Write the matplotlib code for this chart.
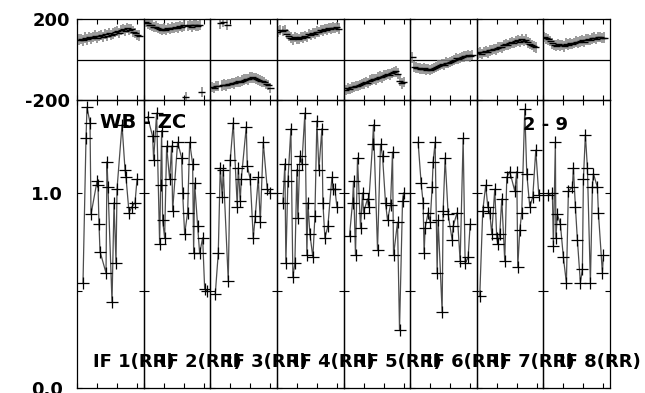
import numpy as np
import matplotlib.pyplot as plt

# time axis of every IF panel, minutes
panel_len = 66.6
time_ticks = [0, 20, 40, 60]
if_labels = ["IF 1(RR)", "IF 2(RR)", "IF 3(RR)", "IF 4(RR)",
             "IF 5(RR)", "IF 6(RR)", "IF 7(RR)", "IF 8(RR)"]
baseline = "WB - ZC"
scan = "2 - 9"

# phase (deg) per IF
phase_time = [
    [2, 4, 6, 8, 10, 12, 14, 16, 18, 20, 22, 24, 26, 28, 30, 32, 34, 36, 38, 40, 42, 44, 46, 48, 50, 52, 54, 56, 58, 60, 62],
    [2, 4, 6, 8, 10, 12, 14, 16, 18, 20, 22, 24, 26, 28, 30, 32, 34, 36, 38, 40, 42, 44, 46, 48, 50, 52, 54, 56, 58],
    [2, 4, 6, 8, 10, 12, 13, 14, 16, 17, 18, 20, 22, 24, 26, 28, 30, 32, 34, 36, 38, 40, 42, 44, 46, 48, 50, 52, 54, 56, 58, 60],
    [1, 3, 6, 8, 10, 12, 14, 16, 18, 20, 22, 24, 26, 28, 30, 32, 34, 36, 38, 40, 42, 44, 46, 48, 50, 52, 54, 56, 58, 60, 62],
    [2, 4, 6, 8, 10, 12, 14, 16, 18, 20, 22, 24, 26, 28, 30, 32, 34, 36, 38, 40, 42, 44, 46, 48, 50, 52, 54, 56, 58, 60],
    [2, 4, 6, 8, 10, 12, 14, 16, 18, 20, 22, 24, 26, 28, 30, 32, 34, 36, 38, 40, 42, 44, 46, 48, 50, 52, 54, 56, 58, 60, 62],
    [1, 3, 5, 7, 9, 11, 13, 15, 17, 19, 21, 23, 25, 27, 29, 31, 33, 35, 37, 39, 41, 43, 45, 47, 49, 51, 53, 55, 57, 59],
    [1, 3, 5, 7, 9, 11, 13, 15, 17, 19, 21, 23, 25, 27, 29, 31, 33, 35, 37, 39, 41, 43, 45, 47, 49, 51, 53, 55, 57, 59, 61],
]
phase_val = [
    [98, 102, 95, 108, 100, 112, 105, 110, 118, 108, 115, 120, 112, 125, 118, 130, 122, 128, 135, 140, 132, 145, 150, 142, 155, 148, 150, 138, 130, 122, 118],
    [185, 178, 172, 168, 160, 162, 155, 150, 148, 152, 145, 155, 150, 158, 155, 160, 158, 165, 160, 168, -185, 165, 170, 162, 172, 168, 165, 170, -160],
    [-136, -140, -130, -132, 178, -128, 185, -124, -128, 170, -120, -122, -115, -118, -112, -108, -110, -104, -100, -96, -98, -90, -88, -92, -95, -100, -104, -108, -112, -120, -126, -140],
    [138, 145, 140, 146, 125, 115, 108, 100, 110, 105, 102, 110, 108, 115, 112, 125, 122, 130, 128, 138, 135, 145, 142, 150, 148, 155, 152, 158, 155, 160, 152],
    [-150, -142, -145, -138, -135, -130, -132, -125, -120, -118, -112, -115, -105, -100, -96, -98, -90, -85, -88, -80, -76, -72, -75, -66, -62, -58, -70, -105, -118, -112],
    [10, -35, -40, -42, -45, -48, -44, -50, -46, -52, -48, -42, -38, -30, -28, -22, -25, -15, -18, -12, -8, -2, 5, 2, 8, 12, 15, 18, 20, 16, 22],
    [30, 35, 28, 38, 40, 35, 45, 48, 52, 50, 58, 62, 60, 70, 75, 72, 80, 85, 82, 90, 95, 88, 100, 92, 98, 85, 78, 72, 65, 60],
    [112, 105, 100, 92, 80, 72, 68, 75, 70, 72, 65, 78, 74, 80, 76, 82, 88, 85, 90, 94, 88, 98, 100, 96, 104, 108, 102, 110, 112, 106, 108],
]

# amplitude per IF
amp_time = [
    [6, 9, 10, 13, 14, 20, 21, 22, 23, 29, 30, 31, 35, 37, 39, 40, 45, 48, 49, 52, 55, 58, 60],
    [4, 9, 10, 13, 16, 17, 18, 19, 21, 23, 26, 28, 29, 34, 38, 39, 41, 44, 46, 49, 50, 51, 54, 56, 59, 61, 63],
    [5, 8, 10, 12, 13, 18, 20, 23, 27, 28, 30, 31, 36, 37, 40, 43, 45, 48, 50, 53, 57, 60],
    [6, 8, 9, 11, 14, 16, 18, 20, 21, 23, 25, 28, 30, 31, 33, 36, 38, 40, 42, 45, 46, 48, 51, 55, 56, 58, 60],
    [6, 9, 10, 12, 14, 17, 19, 20, 24, 25, 29, 30, 34, 37, 39, 42, 44, 47, 49, 50, 54, 56, 59, 60],
    [8, 11, 13, 14, 15, 18, 20, 22, 23, 25, 27, 28, 32, 33, 35, 38, 42, 43, 47, 50, 53, 55, 58, 60],
    [3, 6, 9, 11, 13, 15, 18, 20, 21, 23, 25, 28, 30, 33, 38, 40, 41, 43, 45, 48, 50, 53, 56, 59, 62],
    [5, 9, 10, 12, 12.5, 14, 17, 20, 23, 25, 29, 30, 32, 34, 37, 39, 40, 42, 44, 47, 49, 50, 54, 55, 59, 60],
]
amp_val = [
    [0.54, 1.28, 1.44, 1.36, 0.89, 1.06, 1.04, 0.84, 0.70, 0.59, 1.16, 1.03, 0.44, 0.95, 0.64, 1.02, 1.35, 1.12, 1.08, 0.90, 0.93, 0.95, 1.07],
    [1.39, 1.29, 1.17, 1.41, 0.74, 1.04, 1.32, 0.86, 0.77, 1.24, 1.07, 1.24, 0.91, 1.26, 1.18, 1.00, 0.79, 0.90, 1.26, 1.15, 0.69, 1.05, 0.83, 0.69, 0.77, 0.51, 0.50],
    [0.48, 0.69, 1.13, 0.98, 1.12, 0.55, 1.17, 1.36, 0.93, 1.13, 0.96, 1.07, 1.34, 1.14, 1.07, 0.77, 0.88, 1.08, 0.85, 1.26, 1.02, 1.00],
    [0.95, 1.15, 0.64, 1.06, 1.33, 0.57, 0.64, 1.12, 0.87, 1.19, 1.15, 1.41, 0.68, 0.95, 0.79, 0.67, 0.88, 1.37, 1.12, 1.33, 0.95, 0.77, 0.83, 1.08, 1.02, 1.02, 0.93],
    [0.78, 0.95, 1.06, 0.68, 1.18, 0.82, 1.00, 0.90, 0.97, 0.93, 1.25, 1.35, 0.71, 1.25, 1.19, 0.95, 0.86, 0.94, 1.21, 0.68, 0.85, 0.30, 0.96, 1.00],
    [1.26, 1.05, 0.95, 0.69, 0.82, 0.90, 0.85, 1.03, 1.16, 1.26, 0.59, 0.86, 0.39, 0.91, 1.18, 0.89, 0.76, 0.83, 0.90, 0.65, 1.28, 0.64, 0.67, 0.84],
    [0.47, 0.91, 1.04, 0.93, 0.90, 0.79, 1.02, 0.77, 0.74, 0.79, 0.97, 0.65, 1.08, 1.11, 1.01, 1.11, 0.62, 0.81, 0.90, 1.43, 1.10, 0.93, 0.98, 1.22, 0.99],
    [0.99, 1.00, 0.73, 1.26, 0.77, 0.89, 0.84, 0.67, 0.54, 1.01, 1.03, 1.13, 0.93, 0.76, 0.54, 0.61, 1.07, 1.30, 1.13, 0.54, 1.03, 1.10, 1.03, 0.90, 0.59, 0.68],
]

W, H = 645, 393
fig = plt.figure(figsize=(W / 100, H / 100), dpi=100)
gs = fig.add_gridspec(2, 8, left=77 / W, right=610 / W, top=1 - 19 / H, bottom=1 - 388 / H,
                      height_ratios=[81, 288], wspace=0, hspace=0)

for i in range(8):
    axp = fig.add_subplot(gs[0, i])
    axa = fig.add_subplot(gs[1, i])
    for ax in (axp, axa):
        ax.set_facecolor("none")
        ax.set_xlim(0, panel_len)
        ax.set_xticks(time_ticks)
        ax.tick_params(direction="in", top=True, right=True, length=3.5, width=0.8,
                       labelbottom=False, labelsize=13)
        for s in ax.spines.values():
            s.set_linewidth(0.9)

    # phase
    axp.axhline(0, color="k", lw=0.9)
    axp.errorbar(phase_time[i], phase_val[i], yerr=26, fmt="none", ecolor="0.5", elinewidth=1.1)
    axp.errorbar(phase_time[i], phase_val[i], xerr=3.5, fmt="none", ecolor="k", elinewidth=1.0)
    axp.set_ylim(-200, 200)
    axp.set_yticks([-200, 200])
    axp.tick_params(axis="y", pad=5)

    # amplitude
    axa.plot(amp_time[i], amp_val[i], "-", color="0.3", lw=0.9)
    axa.plot(amp_time[i], amp_val[i], "+", color="k", ms=9, mew=0.9)
    axa.set_ylim(0, 1.477)
    axa.set_yticks([0.0, 0.5, 1.0])
    axa.set_yticklabels(["0.0", "", "1.0"])
    axa.tick_params(axis="y", pad=10)
    axa.text(16, 0.135, if_labels[i], fontsize=13, fontweight="bold", ha="left", va="center")

    if i == 0:
        axp.set_yticklabels(["-200", "200"], fontweight="bold")
        for t in axa.get_yticklabels():
            t.set_fontweight("bold")
    else:
        axp.set_yticklabels([])
        axa.set_yticklabels([])

fig.text(100 / W, 1 - 123 / H, baseline, fontsize=14, fontweight="bold", ha="left", va="center")
fig.text(523 / W, 1 - 125 / H, scan, fontsize=13, fontweight="bold", ha="left", va="center")

fig.savefig("out.png", dpi=100)
